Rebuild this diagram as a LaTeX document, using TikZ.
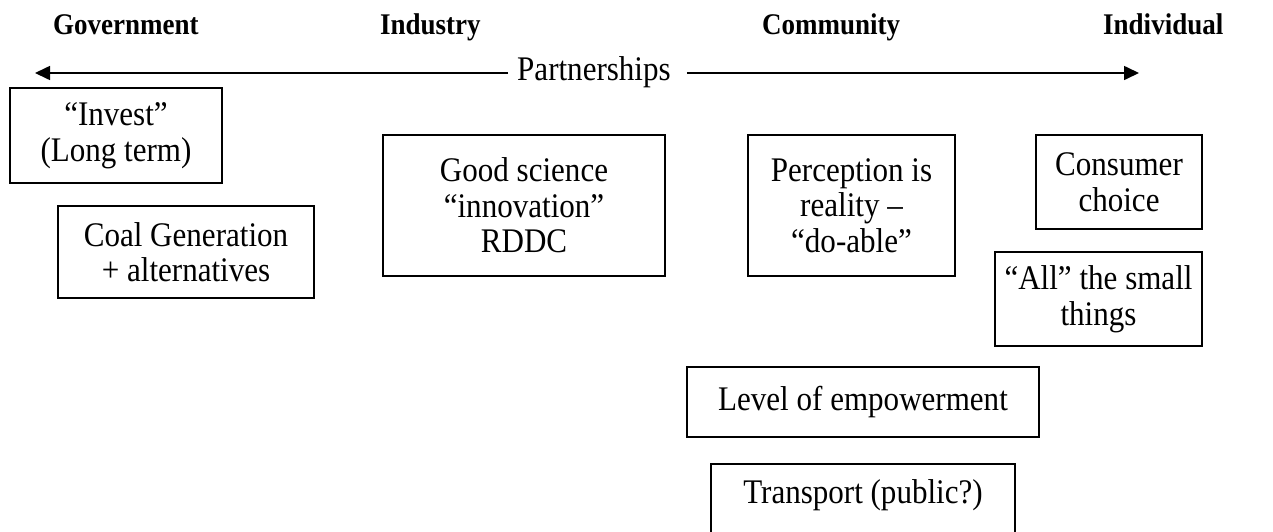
\documentclass[tikz,border=0pt]{standalone}
\usepackage{fontspec}
\setmainfont{Liberation Serif}[FakeStretch=0.9]
\usetikzlibrary{arrows.meta}
\tikzset{
  box/.style={draw=black, line width=1.6pt, align=center, inner sep=0pt,
    font=\fontsize{34.5}{35.5}\selectfont},
  heading/.style={anchor=base west, inner sep=0pt, font=\fontsize{30}{32}\selectfont\bfseries},
  plain/.style={inner sep=0pt, font=\fontsize{34.5}{35.5}\selectfont},
  axis/.style={line width=1.6pt, -{Triangle[length=15pt,width=14pt]}}
}
\begin{document}
\begin{tikzpicture}[x=1pt,y=-1pt]
\useasboundingbox (0,0) rectangle (1273,531);
% headings
\node[heading] (gov) at (53,34) {Government};
\node[heading] (ind) at (380,34) {Industry};
\node[heading] (com) at (762,34) {Community};
\node[heading] (indiv) at (1103,34) {Individual};
% partnerships axis
\node[plain, anchor=base west] (part) at (517,80) {Partnerships};
\coordinate (lend) at (35,73);
\coordinate (rend) at (1139,73);
\draw[axis, shorten <=9pt] (part.west |- lend) -- (lend);
\draw[axis, shorten <=16pt] (part.east |- lend) -- (rend);
% boxes
\node[box, minimum width=212pt, minimum height=95pt] (invest) at (116,135.5) {“Invest”\\(Long term)};
\node[box, minimum width=256pt, minimum height=92pt] (coal) at (186,252) {Coal Generation\\+ alternatives};
\node[box, minimum width=282pt, minimum height=141pt] (good) at (524,205.5) {Good science\\“innovation”\\RDDC};
\node[box, minimum width=207pt, minimum height=141pt] (perc) at (851.5,205.5) {Perception is\\reality –\\“do-able”};
\node[box, minimum width=166pt, minimum height=94pt] (cons) at (1119,182) {Consumer\\choice};
\node[box, minimum width=207pt, minimum height=94pt] (small) at (1098.5,299) {“All” the small\\things};
\node[box, minimum width=352pt, minimum height=70pt] (level) at (863,402) {Level of empowerment};
\node[box, minimum width=304pt, minimum height=95pt, anchor=north] (transport) at (863,463) {};
\node[plain, anchor=base] (transporttext) at (863,503) {Transport (public?)};
\end{tikzpicture}
\end{document}
